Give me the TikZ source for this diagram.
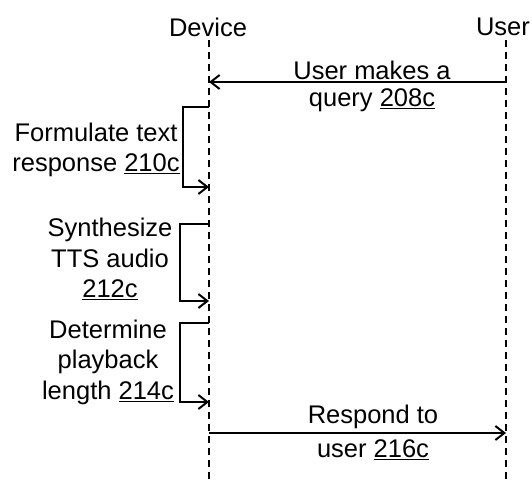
\documentclass[tikz,border=0pt]{standalone}
\usepackage{fontspec}
\setmainfont{Liberation Sans}
\usetikzlibrary{arrows.meta}
\begin{document}
\begin{tikzpicture}[x=1pt,y=-1pt,
  lbl/.style={font=\fontsize{25.5}{30.5}\selectfont, inner sep=0pt, align=center},
  life/.style={line width=2pt, dash pattern=on 7pt off 5pt},
  msg/.style={line width=2pt, -{Straight Barb[length=9pt,width=14pt,line width=2pt]}},
]
\useasboundingbox (0,0) rectangle (532,481);
% actors
\node[lbl] (dev) at (208,27) {Device};
\node[lbl] (usr) at (503,27) {User};
\coordinate (devtop) at (209,40);
\coordinate (devbot) at (209,479);
\coordinate (usrtop) at (506,40);
\coordinate (usrbot) at (506,479);
\draw[life] (devtop) -- (devbot);
\draw[life] (usrtop) -- (usrbot);
% query
\coordinate (q1) at (506,82);
\coordinate (q2) at (209,82);
\draw[msg] (q1) -- (q2);
\node[lbl] (qa) at (372,70) {User makes a};
\node[lbl] (qb) at (372,100) {query \underline{208c}};
% loop 1
\coordinate (a1) at (209,107);
\coordinate (b1) at (209,187);
\draw[msg] (a1) -- ++(-26,0) |- (b1);
\node[lbl] (t1) at (96,150) {Formulate text\\response \underline{210c}};
% loop 2
\coordinate (a2) at (209,224);
\coordinate (b2) at (209,301);
\draw[msg] (a2) -- ++(-29,0) |- (b2);
\node[lbl] (t2) at (110,259) {Synthesize\\TTS audio\\\underline{212c}};
% loop 3
\coordinate (a3) at (209,323);
\coordinate (b3) at (209,402);
\draw[msg] (a3) -- ++(-29,0) |- (b3);
\node[lbl] (t3) at (108,362) {Determine\\playback\\length \underline{214c}};
% respond
\coordinate (r1) at (209,433);
\coordinate (r2) at (506,433);
\draw[msg] (r1) -- (r2);
\node[lbl] (ra) at (373,417) {Respond to};
\node[lbl] (rb) at (373,450) {user \underline{216c}};
\end{tikzpicture}
\end{document}
